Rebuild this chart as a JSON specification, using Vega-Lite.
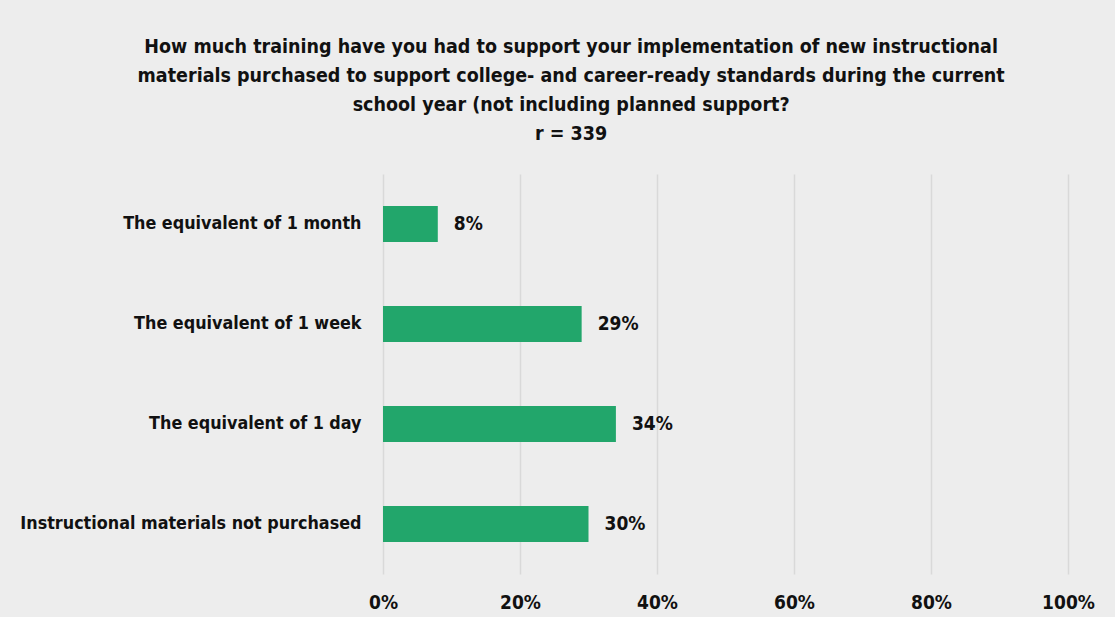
{
  "$schema": "https://vega.github.io/schema/vega-lite/v6.json",
  "background": "#ededed",
  "padding": {"left": 19, "top": 36, "right": 20, "bottom": 5},
  "width": 685,
  "height": 400,
  "title": {
    "text": ["How much training have you had to support your implementation of new instructional", "materials purchased to support college- and career-ready standards during the current", "school year (not including planned support?", "r = 339"],
    "font": "DejaVu Sans Condensed",
    "fontSize": 19.5,
    "fontWeight": "bold",
    "color": "#111111",
    "lineHeight": 29,
    "anchor": "middle",
    "frame": "bounds",
    "dx": 14,
    "offset": 30
  },
  "data": {
    "values": [
      {"category": "The equivalent of 1 month", "value": 8},
      {"category": "The equivalent of 1 week", "value": 29},
      {"category": "The equivalent of 1 day", "value": 34},
      {"category": "Instructional materials not purchased", "value": 30}
    ]
  },
  "transform": [{"calculate": "datum.value + '%'", "as": "label"}],
  "encoding": {
    "y": {
      "field": "category",
      "type": "nominal",
      "sort": null,
      "title": null,
      "scale": {"paddingInner": 0.64, "paddingOuter": 0.32},
      "axis": {
        "ticks": false,
        "domain": false,
        "grid": false,
        "labelPadding": 22,
        "labelFont": "DejaVu Sans Condensed",
        "labelFontSize": 17.8,
        "labelFontWeight": "bold",
        "labelColor": "#111111",
        "labelLimit": 400
      }
    },
    "x": {
      "field": "value",
      "type": "quantitative",
      "title": null,
      "scale": {"domain": [0, 100]},
      "axis": {
        "values": [0, 20, 40, 60, 80, 100],
        "labelExpr": "datum.value + '%'",
        "ticks": false,
        "domain": false,
        "grid": true,
        "gridColor": "#d9d9d9",
        "gridWidth": 1.5,
        "labelPadding": 19,
        "labelFont": "DejaVu Sans Condensed",
        "labelFontSize": 19,
        "labelFontWeight": "bold",
        "labelColor": "#111111",
        "labelFlush": false
      }
    }
  },
  "layer": [
    {"mark": {"type": "bar", "color": "#22a66b"}},
    {
      "mark": {"type": "text", "align": "left", "baseline": "middle", "dx": 16, "font": "DejaVu Sans Condensed", "fontSize": 19, "fontWeight": "bold", "color": "#111111"},
      "encoding": {"text": {"field": "label", "type": "nominal"}}
    }
  ],
  "config": {"view": {"stroke": null}}
}
